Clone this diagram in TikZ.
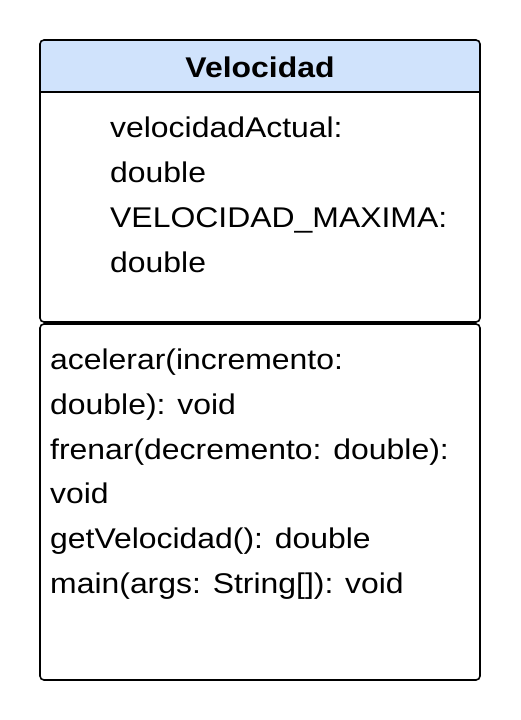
\documentclass[tikz,border=0pt]{standalone}
\usepackage{fontspec}
\setmainfont{Liberation Sans}[FakeStretch=1.12]
\definecolor{hdr}{RGB}{208,227,252}
\begin{document}
\begin{tikzpicture}[x=1pt,y=-1pt,
  box/.style={draw=black,line width=1.6pt,rounded corners=4pt},
  txt/.style={anchor=base west,inner sep=0pt,font=\fontsize{28.5}{34}\selectfont},
  title/.style={anchor=base,inner sep=0pt,font=\fontsize{28.5}{34}\selectfont\bfseries}]
\useasboundingbox (0,0) rectangle (520,720);
% top box (header + attributes)
\begin{scope}
\clip[rounded corners=4pt] (40,40) rectangle (480,322);
\fill[hdr] (40,40) rectangle (480,92);
\end{scope}
\draw[box] (40,40) rectangle (480,322);
\draw[line width=1.6pt] (40,92) -- (480,92);
\node[title] (title) at (260,77) {Velocidad};
\node[txt] (a1) at (110,137) {velocidadActual:};
\node[txt] (a2) at (110,182) {double};
\node[txt] (a3) at (110,227.3) {VELOCIDAD\_MAXIMA:};
\node[txt] (a4) at (110,272) {double};
% methods box
\draw[box] (40,324) rectangle (480,680);
\node[txt] (m1) at (50,369.3) {acelerar(incremento:};
\node[txt] (m2) at (50,414) {double): void};
\node[txt] (m3) at (50,459) {frenar(decremento: double):};
\node[txt] (m4) at (50,503.5) {void};
\node[txt] (m5) at (50,548) {getVelocidad(): double};
\node[txt] (m6) at (50,593) {main(args: String[]): void};
\end{tikzpicture}
\end{document}
